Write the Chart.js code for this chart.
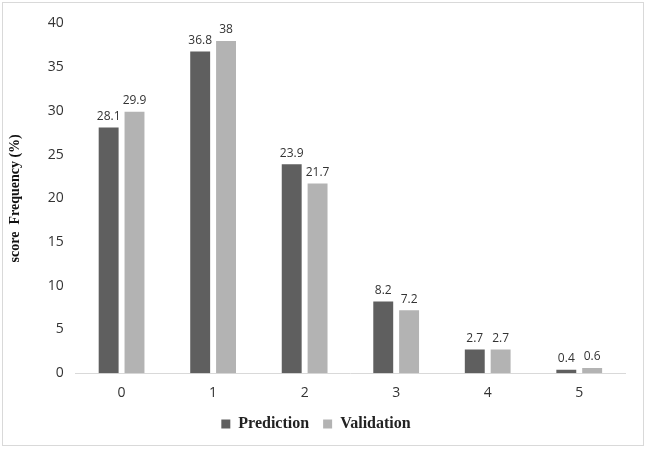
<!DOCTYPE html>
<html>
<head>
<meta charset="utf-8">
<script src="https://cdn.jsdelivr.net/npm/chart.js@4"></script>
<style>
  html, body { margin: 0; padding: 0; background: #fff; }
  #wrap { position: absolute; left: 2px; top: 2px; width: 642px; height: 444px; border: 1px solid #d9d9d9; box-sizing: border-box; }
  #cv { position: absolute; left: 0; top: 0; }
</style>
</head>
<body>
<div id="wrap"><canvas id="cv" width="640" height="442"></canvas></div>
<script>
// categorias e valores
const categorias = ['0', '1', '2', '3', '4', '5'];
const predicao = [28.1, 36.8, 23.9, 8.2, 2.7, 0.4];
const validacao = [29.9, 38, 21.7, 7.2, 2.7, 0.6];
const ticksY = [0, 5, 10, 15, 20, 25, 30, 35, 40];

// rótulos em cima das barras
const rotulos = {
    id: 'rotulos',
    afterDatasetsDraw(chart) {
        const ctx = chart.ctx;
        ctx.save();
        ctx.font = '12px "Open Sans", sans-serif';
        ctx.fillStyle = '#333';
        ctx.textAlign = 'center';
        ctx.textBaseline = 'bottom';
        chart.data.datasets.forEach((ds, i) => {
            chart.getDatasetMeta(i).data.forEach((bar, j) => {
                ctx.fillText(String(ds.data[j]), bar.x, bar.y - 5);
            });
        });
        ctx.restore();
    }
};

new Chart(document.getElementById('cv'), {
    type: 'bar',
    data: {
        labels: categorias,
        datasets: [
            { label: 'Prediction', data: predicao, backgroundColor: '#5f5f5f' },
            { label: 'Validation', data: validacao, backgroundColor: '#b3b3b3' }
        ]
    },
    options: {
        responsive: false,
        animation: false,
        categoryPercentage: 0.565,
        barPercentage: 0.77,
        layout: { padding: { left: 4, right: 18, top: 4, bottom: 3 } },
        plugins: {
            legend: {
                position: 'bottom',
                labels: {
                    boxWidth: 9, boxHeight: 9, padding: 14,
                    color: '#222',
                    font: { family: '"Liberation Serif", serif', size: 16, weight: 'bold' }
                }
            },
            tooltip: { enabled: false }
        },
        scales: {
            x: {
                grid: { display: false, drawTicks: false },
                border: { color: '#d9d9d9' },
                ticks: { color: '#333', padding: 11, font: { family: '"Open Sans", sans-serif', size: 14 } },
                afterFit: (ax) => { ax.height -= 10; }
            },
            y: {
                min: 0, max: 40,
                afterBuildTicks: (ax) => { ax.ticks = ticksY.map(v => ({ value: v })); },
                grid: { display: false, drawTicks: false },
                border: { display: false },
                ticks: { color: '#333', padding: 12, font: { family: '"Open Sans", sans-serif', size: 14 } },
                title: {
                    display: true, text: 'score  Frequency (%)', color: '#111', padding: { top: 0, bottom: 12 },
                    font: { family: '"Liberation Serif", serif', size: 14, weight: 'bold' }
                }
            }
        }
    },
    plugins: [rotulos]
});
</script>
</body>
</html>
